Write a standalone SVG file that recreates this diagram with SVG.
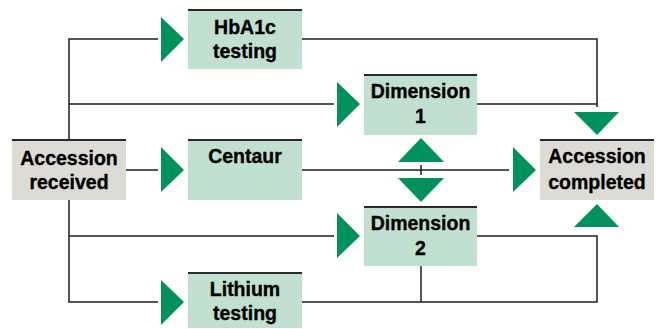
<svg xmlns="http://www.w3.org/2000/svg" width="659" height="329" viewBox="0 0 659 329">
<style>
.bg{fill:#ffffff}
.test rect.b{fill:#c2e0cf}
.acc rect.b{fill:#dcdbd4}
.top{stroke:#2a2a2a;stroke-width:2}
text{font-family:"Liberation Sans",Arial,sans-serif;font-weight:bold;font-size:19.5px;fill:#000;stroke:#000;stroke-width:0.35;text-anchor:middle}
.ln{fill:none;stroke:#1e1e1e;stroke-width:1.5}
.tri{fill:#00925a}
</style>
<rect class="bg" x="0" y="0" width="659" height="329"/>
<g id="connectors">
<polyline class="ln" points="69,139 69,39 158,39"/>
<line class="ln" x1="69" y1="104" x2="334" y2="104"/>
<polyline class="ln" points="302,39 597,39 597,107"/>
<line class="ln" x1="477" y1="104" x2="597" y2="104"/>
<line class="ln" x1="126" y1="170" x2="158" y2="170"/>
<line class="ln" x1="302" y1="170" x2="509" y2="170"/>
<line class="ln" x1="421" y1="165" x2="421" y2="175"/>
<polyline class="ln" points="69,200 69,302 158,302"/>
<line class="ln" x1="69" y1="236" x2="334" y2="236"/>
<polyline class="ln" points="477,236 597,236 597,302 302,302"/>
<line class="ln" x1="421" y1="266" x2="421" y2="302"/>
<polygon class="tri" points="161,17 184,39 161,62"/>
<polygon class="tri" points="161,147 184,170 161,192"/>
<polygon class="tri" points="161,280 184,302 161,325"/>
<polygon class="tri" points="337,82 360,104 337,127"/>
<polygon class="tri" points="337,213 360,236 337,258"/>
<polygon class="tri" points="513,147 536,170 513,192"/>
<polygon class="tri" points="574,112 619,112 597,135"/>
<polygon class="tri" points="574,227 619,227 597,204"/>
<polygon class="tri" points="398,162 444,162 421,138"/>
<polygon class="tri" points="398,178 444,178 421,202"/>
</g>
<g id="accession-received" class="acc">
<rect class="b" x="12" y="139" width="114" height="61"/>
<line class="top" x1="12" y1="140" x2="126" y2="140"/>
<text x="69" y="165">Accession</text>
<text x="69" y="189">received</text>
</g>
<g id="hba1c" class="test">
<rect class="b" x="188" y="9" width="114" height="60"/>
<line class="top" x1="188" y1="10" x2="302" y2="10"/>
<text x="245" y="34">HbA1c</text>
<text x="245" y="58">testing</text>
</g>
<g id="centaur" class="test">
<rect class="b" x="188" y="139" width="114" height="61"/>
<line class="top" x1="188" y1="140" x2="302" y2="140"/>
<text x="245" y="163">Centaur</text>
</g>
<g id="lithium" class="test">
<rect class="b" x="188" y="272" width="114" height="56"/>
<line class="top" x1="188" y1="273" x2="302" y2="273"/>
<text x="245" y="296">Lithium</text>
<text x="245" y="320">testing</text>
</g>
<g id="dimension1" class="test">
<rect class="b" x="364" y="74" width="113" height="61"/>
<line class="top" x1="364" y1="75" x2="477" y2="75"/>
<text x="420.5" y="98">Dimension</text>
<text x="420.5" y="123">1</text>
</g>
<g id="dimension2" class="test">
<rect class="b" x="364" y="206" width="113" height="60"/>
<line class="top" x1="364" y1="207" x2="477" y2="207"/>
<text x="420.5" y="230">Dimension</text>
<text x="420.5" y="255">2</text>
</g>
<g id="accession-completed" class="acc">
<rect class="b" x="540" y="139" width="114" height="61"/>
<line class="top" x1="540" y1="140" x2="654" y2="140"/>
<text x="597" y="163">Accession</text>
<text x="597" y="189">completed</text>
</g>
</svg>
